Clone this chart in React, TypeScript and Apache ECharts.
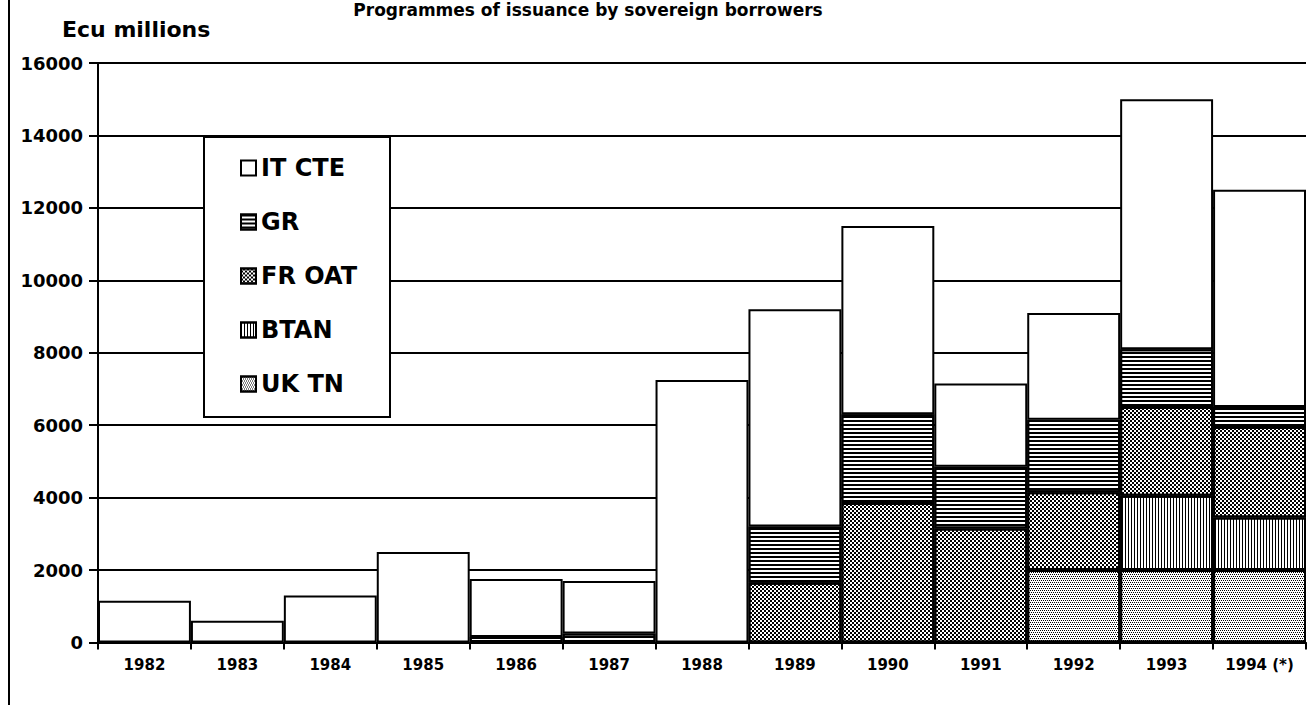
import React, { useEffect, useRef } from "react";
import * as echarts from "echarts";

const years = ["1982", "1983", "1984", "1985", "1986", "1987", "1988", "1989", "1990", "1991", "1992", "1993", "1994 (*)"];
const ukTn = [null, null, null, null, null, null, null, null, null, null, 2000, 2000, 2000];
const btan = [null, null, null, null, null, null, null, null, null, null, null, 2050, 1450];
const frOat = [null, null, null, null, null, null, null, 1650, 3850, 3150, 2150, 2450, 2500];
const gr = [null, null, null, null, 150, 250, null, 1550, 2450, 1700, 2000, 1600, 550];
const itCte = [1150, 600, 1300, 2500, 1600, 1450, 7250, 6000, 5200, 2300, 2950, 6900, 6000];
const yTicks = { min: 0, max: 16000, interval: 2000 };
const legendNames = ["IT CTE", "GR", "FR OAT", "BTAN", "UK TN"];

const FONT = "DejaVu Sans";

export default function App() {
  const ref = useRef<HTMLDivElement>(null);
  useEffect(() => {
    const chart = echarts.init(ref.current!, null, { renderer: "svg" });
    const baseItem = { color: "#fff", borderColor: "#000", borderWidth: 2 };
    const mk = (name: string, data: (number | null)[], decal: any) => ({
      name,
      type: "bar",
      stack: "total",
      barCategoryGap: "0%",
      data,
      itemStyle: decal ? { ...baseItem, decal } : { ...baseItem },
      emphasis: { disabled: true },
    });
    const decalGR = { symbol: "rect", symbolSize: 1, color: "#000", backgroundColor: "#fff", dashArrayX: [1, 0], dashArrayY: [2, 2] };
    const decalFR = { symbol: "rect", symbolSize: 1, color: "#000", backgroundColor: "#fff", dashArrayX: [[2, 2], [0, 2, 2, 0]], dashArrayY: [2, 0] };
    const decalBT = { symbol: "rect", symbolSize: 1, color: "#000", backgroundColor: "#fff", dashArrayX: [[1, 2]], dashArrayY: [1, 0] };
    const decalUK = { symbol: "rect", symbolSize: 1, color: "#000", backgroundColor: "#fff", dashArrayX: [[1, 1], [0, 1, 1, 0]], dashArrayY: [1, 1] };

    chart.setOption({
      animation: false,
      backgroundColor: "#fff",
      grid: { left: 98, right: 4, top: 63, bottom: 62.5 },
      legend: {
        data: legendNames,
        orient: "vertical",
        left: 235,
        top: 151,
        itemWidth: 15,
        itemHeight: 15,
        itemGap: 30,
        icon: "rect",
        z: 20,
        selectedMode: false,
        textStyle: { fontFamily: FONT, fontWeight: "bold", fontSize: 24, color: "#000", lineHeight: 24 },
      },
      xAxis: {
        type: "category",
        data: years,
        boundaryGap: true,
        axisLine: { lineStyle: { color: "#000", width: 2 } },
        axisTick: { show: true, length: 7, lineStyle: { color: "#000", width: 2 } },
        axisLabel: { color: "#000", fontFamily: FONT, fontWeight: "bold", fontSize: 15, margin: 15 },
      },
      yAxis: [
        {
          type: "value",
          ...yTicks,
          axisLine: { show: true, lineStyle: { color: "#000", width: 2 } },
          axisTick: { show: true, length: 9, lineStyle: { color: "#000", width: 2 } },
          splitLine: { show: true, lineStyle: { color: "#000", width: 2 } },
          axisLabel: { color: "#000", fontFamily: FONT, fontWeight: "bold", fontSize: 18, margin: 15, formatter: (v: number) => String(v) },
        },
        {
          type: "value",
          position: "left",
          ...yTicks,
          axisLine: { show: false },
          axisTick: { show: true, inside: true, length: 6, lineStyle: { color: "#000", width: 2 } },
          splitLine: { show: false },
          axisLabel: { show: false },
        },
      ],
      graphic: [
        { type: "line", z: 10, shape: { x1: 9, y1: 0, x2: 9, y2: 705 }, style: { stroke: "#000", lineWidth: 2 } },
        {
          type: "text",
          z: 10,
          x: 588,
          y: 10,
          style: { text: "Programmes of issuance by sovereign borrowers", fontFamily: FONT, fontWeight: "bold", fontSize: 17, fill: "#000", align: "center", verticalAlign: "middle" },
        },
        {
          type: "text",
          z: 10,
          x: 62,
          y: 29,
          style: { text: "Ecu millions", fontFamily: FONT, fontWeight: "bold", fontSize: 22, fill: "#000", align: "left", verticalAlign: "middle" },
        },
        {
          type: "rect",
          z: 10,
          shape: { x: 204, y: 137, width: 186, height: 280 },
          style: { fill: "#fff", stroke: "#000", lineWidth: 2 },
        },
      ],
      series: [
        mk("UK TN", ukTn, decalUK),
        mk("BTAN", btan, decalBT),
        mk("FR OAT", frOat, decalFR),
        mk("GR", gr, decalGR),
        mk("IT CTE", itCte, null),
      ],
    });
    return () => chart.dispose();
  }, []);
  return <div ref={ref} style={{ position: "fixed", left: 0, top: 0, width: 1310, height: 705, background: "#fff" }} />;
}
